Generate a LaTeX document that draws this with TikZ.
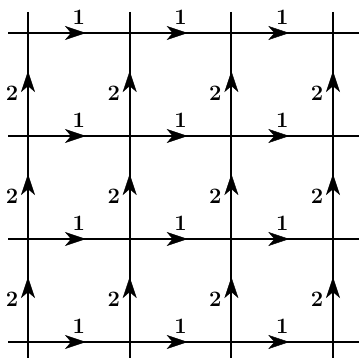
\documentclass[tikz,border=0pt]{standalone}
\usepackage{fontspec}
\usetikzlibrary{arrows.meta,decorations.markings,calc}
\newcommand{\labfont}{\fontsize{22}{22}\selectfont\bfseries}
\begin{document}
\begin{tikzpicture}[x=1pt,y=-1pt,
  gridline/.style={line width=2pt},
  arrowhead/.tip={Stealth[length=21pt,width=14pt,inset=6pt]},
  hseg/.style={postaction={decorate},decoration={markings,mark=at position 0.57 with {\arrow{arrowhead}}}},
  vseg/.style={postaction={decorate},decoration={markings,mark=at position 0.63 with {\arrow{arrowhead}}}},
  lab/.style={font=\labfont,inner sep=0pt}]
\useasboundingbox (0,0) rectangle (359,358);
% grid points
\foreach \i/\x in {0/28,1/129.7,2/231.4,3/333} {
  \foreach \j/\y in {0/33,1/136,2/239,3/342} {
    \coordinate (p\i\j) at (\x,\y);
  }
  \coordinate (top\i) at (\x,12);
  \coordinate (bot\i) at (\x,358);
}
\foreach \j/\y in {0/33,1/136,2/239,3/342} {
  \coordinate (left\j) at (8,\y);
  \coordinate (right\j) at (359,\y);
}
% full lines
\foreach \i in {0,1,2,3} \draw[gridline] (top\i) -- (bot\i);
\foreach \j in {0,1,2,3} \draw[gridline] (left\j) -- (right\j);
% horizontal arrows with label 1
\foreach \j in {0,1,2,3} {
  \foreach \i/\k in {0/1,1/2,2/3} {
    \path[hseg] (p\i\j) -- (p\k\j);
    \node[lab] (one\i\j) at ($ (p\i\j)!0.5!(p\k\j) + (0,-16) $) {1};
  }
}
% vertical arrows with label 2
\foreach \i in {0,1,2,3} {
  \foreach \j/\k in {0/1,1/2,2/3} {
    \path[vseg] (p\i\k) -- (p\i\j);
    \node[lab] (two\i\j) at ($ (p\i\j)!0.5!(p\i\k) + (-16,9) $) {2};
  }
}
\end{tikzpicture}
\end{document}
